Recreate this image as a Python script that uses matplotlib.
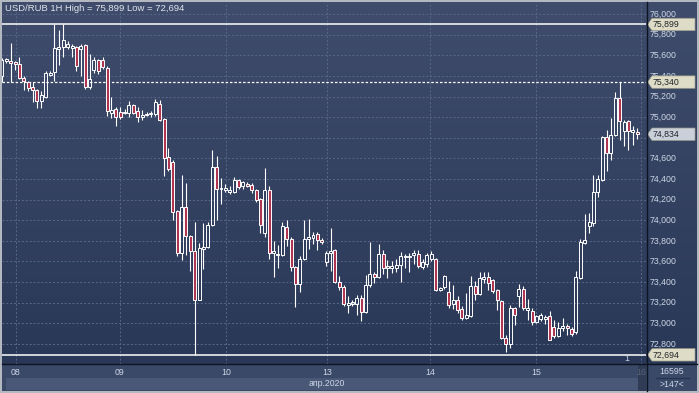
import numpy as np
import matplotlib.pyplot as plt
from matplotlib.colors import LinearSegmentedColormap
from matplotlib.patches import Polygon, Rectangle
from matplotlib.lines import Line2D

plt.rcParams['font.family'] = ['Liberation Sans', 'DejaVu Sans']

# USD/RUB hourly candles (open, high, low, close)
opens = [75.40, 75.54, 75.54, 75.53, 75.52, 75.38, 75.34, 75.29, 75.26, 75.16,
         75.20, 75.41, 75.44, 75.66, 75.68, 75.68, 75.67, 75.68, 75.66, 75.70,
         75.29, 75.46, 75.55, 75.55, 75.48, 75.04, 75.08, 75.05, 75.04, 75.04,
         75.12, 75.06, 75.00, 75.02, 75.03, 75.03, 75.13, 74.98, 74.61, 74.56,
         74.09, 73.68, 74.13, 73.85, 73.70, 73.23, 73.72, 73.74, 73.95, 74.52,
         74.30, 74.29, 74.27, 74.27, 74.39, 74.33, 74.35, 74.34, 74.29, 74.21,
         73.88, 74.29, 73.68, 73.66, 73.66, 73.93, 73.82, 73.55, 73.38, 73.62,
         73.82, 73.83, 73.87, 73.81, 73.59, 73.68, 73.71, 73.40, 73.35, 73.18,
         73.19, 73.19, 73.25, 73.11, 73.37, 73.48, 73.45, 73.67, 73.54, 73.54,
         73.54, 73.57, 73.64, 73.64, 73.66, 73.67, 73.55, 73.58, 73.62, 73.62,
         73.32, 73.35, 73.30, 73.19, 73.23, 73.14, 73.05, 73.07, 73.36, 73.28,
         73.43, 73.45, 73.42, 73.32, 73.22, 72.86, 72.80, 73.15, 73.26, 73.33,
         73.13, 73.12, 73.01, 73.04, 73.04, 73.07, 72.96, 72.88, 72.95, 72.97,
         72.94, 72.92, 73.44, 73.78, 73.94, 73.97, 74.27, 74.39, 74.81, 74.65,
         74.83, 75.19, 74.87, 74.96, 74.86, 74.86]
highs = [75.57, 75.57, 75.72, 75.54, 75.58, 75.40, 75.35, 75.34, 75.27, 75.25,
         75.45, 75.45, 75.899, 75.85, 75.90, 75.74, 75.71, 75.69, 75.71, 75.71,
         75.61, 75.58, 75.56, 75.58, 75.50, 75.20, 75.10, 75.10, 75.08, 75.16,
         75.13, 75.10, 75.07, 75.05, 75.06, 75.18, 75.17, 74.99, 74.70, 74.58,
         74.10, 74.44, 74.36, 73.86, 73.98, 73.78, 73.97, 73.98, 74.68, 74.62,
         74.41, 74.35, 74.33, 74.42, 74.40, 74.38, 74.37, 74.36, 74.30, 74.22,
         74.51, 74.33, 73.80, 73.76, 73.98, 74.00, 73.84, 73.56, 73.65, 74.00,
         74.01, 73.89, 73.89, 73.83, 73.70, 73.92, 73.72, 73.46, 73.37, 73.26,
         73.23, 73.27, 73.27, 73.47, 73.79, 73.50, 73.77, 73.71, 73.61, 73.60,
         73.62, 73.69, 73.67, 73.68, 73.71, 73.71, 73.62, 73.68, 73.70, 73.63,
         73.35, 73.47, 73.41, 73.37, 73.26, 73.17, 73.29, 73.46, 73.41, 73.50,
         73.50, 73.50, 73.43, 73.33, 73.23, 72.89, 73.18, 73.16, 73.38, 73.36,
         73.24, 73.15, 73.08, 73.10, 73.08, 73.12, 73.03, 73.01, 73.05, 72.99,
         72.96, 73.51, 73.82, 74.06, 74.07, 74.44, 74.44, 74.82, 74.88, 74.99,
         75.24, 75.340, 74.97, 74.97, 74.91, 74.89]
lows = [75.34, 75.53, 75.34, 75.46, 75.37, 75.26, 75.25, 75.15, 75.09, 75.09,
        75.19, 75.40, 75.35, 75.51, 75.58, 75.66, 75.58, 75.45, 75.40, 75.27,
        75.27, 75.43, 75.42, 75.47, 75.01, 74.99, 74.91, 74.98, 75.03, 75.00,
        75.03, 74.95, 74.97, 75.01, 75.00, 75.01, 74.96, 74.43, 74.48, 74.00,
        73.65, 73.61, 73.66, 73.51, 72.694, 73.23, 73.53, 73.73, 73.94, 74.00,
        74.16, 74.27, 74.25, 74.26, 74.30, 74.30, 74.32, 74.26, 74.18, 73.88,
        73.84, 73.62, 73.45, 73.54, 73.65, 73.75, 73.51, 73.16, 73.30, 73.61,
        73.72, 73.77, 73.71, 73.77, 73.56, 73.51, 73.39, 73.32, 73.17, 73.10,
        73.17, 73.08, 73.02, 73.10, 73.35, 73.39, 73.44, 73.48, 73.44, 73.49,
        73.50, 73.40, 73.54, 73.50, 73.58, 73.54, 73.53, 73.55, 73.60, 73.31,
        73.31, 73.33, 73.15, 73.14, 73.10, 73.03, 73.04, 73.06, 73.23, 73.27,
        73.39, 73.32, 73.29, 73.13, 72.85, 72.72, 72.76, 72.98, 73.16, 73.13,
        73.03, 72.98, 73.00, 73.02, 72.99, 72.84, 72.86, 72.87, 72.93, 72.89,
        72.88, 72.90, 73.43, 73.77, 73.88, 73.94, 74.23, 74.38, 74.48, 74.58,
        74.82, 74.78, 74.72, 74.68, 74.73, 74.79]
closes = [75.55, 75.56, 75.53, 75.52, 75.38, 75.35, 75.28, 75.26, 75.16, 75.21,
          75.43, 75.43, 75.67, 75.68, 75.75, 75.71, 75.69, 75.50, 75.69, 75.29,
          75.37, 75.55, 75.45, 75.49, 75.06, 75.07, 75.00, 75.00, 75.05, 75.12,
          75.04, 75.00, 75.02, 75.03, 75.04, 75.15, 74.97, 74.60, 74.50, 74.08,
          73.68, 74.13, 73.85, 73.70, 73.23, 73.73, 73.74, 73.95, 74.52, 74.30,
          74.31, 74.31, 74.29, 74.39, 74.32, 74.37, 74.33, 74.29, 74.20, 73.95,
          74.29, 73.68, 73.70, 73.67, 73.94, 73.82, 73.55, 73.38, 73.62, 73.82,
          73.84, 73.86, 73.81, 73.79, 73.68, 73.70, 73.40, 73.35, 73.19, 73.20,
          73.20, 73.25, 73.11, 73.37, 73.48, 73.45, 73.67, 73.54, 73.55, 73.56,
          73.57, 73.65, 73.65, 73.65, 73.68, 73.56, 73.59, 73.66, 73.67, 73.32,
          73.34, 73.46, 73.18, 73.23, 73.13, 73.05, 73.08, 73.36, 73.28, 73.44,
          73.45, 73.39, 73.31, 73.23, 72.86, 72.80, 73.15, 73.08, 73.33, 73.15,
          73.15, 73.01, 73.07, 73.08, 73.06, 72.84, 72.88, 72.95, 72.97, 72.95,
          72.90, 73.45, 73.79, 73.81, 73.98, 74.27, 74.40, 74.81, 74.65, 74.83,
          75.19, 74.96, 74.95, 74.87, 74.88, 74.834]

price_ticks = [72.8, 73.0, 73.2, 73.4, 73.6, 73.8, 74.0, 74.2, 74.4, 74.6,
               74.8, 75.0, 75.2, 75.4, 75.6, 75.8, 76.0]
day_pos = [3.15, 26.95, 51.1, 74.2, 97.7, 121.9, 145.9]   # candle index of each day start
day_labels = ['08', '09', '10', '13', '14', '15', '16']
month_label = 'апр.2020'
hi_level = 75.899
lo_level = 72.694
recent_high = 75.340
last_price = 74.834

W, H = 699, 393
fig = plt.figure(figsize=(W / 100, H / 100), dpi=100, facecolor='#b4b8c0')


def px_axes(x0, y0, x1, y1, face):
    a = fig.add_axes([x0 / W, 1 - y1 / H, (x1 - x0) / W, (y1 - y0) / H])
    a.set_facecolor(face)
    a.set_xticks([])
    a.set_yticks([])
    for s in a.spines.values():
        s.set_visible(False)
    return a


bg = LinearSegmentedColormap.from_list('bg', ['#3f4c6b', '#2a3857'])
ylim = (72.605, 76.117)
xlim = (0.02, 147.0)
grid_c = '#58678a'
lab_c = '#cdd6e6'
fmt = lambda p: f'{p:.3f}'.replace('.', ',')

# main price panel
ax = px_axes(2, 2, 646, 364, '#34425f')
ax.imshow(np.linspace(0, 1, 256).reshape(-1, 1), cmap=bg, aspect='auto',
          extent=[0, 1, 0, 1], transform=ax.transAxes, zorder=0)
for p in price_ticks:
    ax.axhline(p, color=grid_c, lw=0.7, ls=(0, (2, 2)), zorder=1)
for d in day_pos:
    ax.axvline(d, color=grid_c, lw=0.7, ls=(0, (2, 2)), zorder=1)
ax.axhline(hi_level, color='white', lw=1.1, zorder=2)
ax.axhline(recent_high, color='white', lw=0.9, ls=(0, (2, 1.5)), zorder=2)
ax.axhline(lo_level, color='white', lw=1.1, zorder=2)

o, h, l, c = map(np.array, (opens, highs, lows, closes))
x = np.arange(len(o))
top = np.maximum(o, c)
bot = np.minimum(o, c)
ax.vlines(x, top, h, color='white', lw=0.8, zorder=3)
ax.vlines(x, l, bot, color='white', lw=0.8, zorder=3)
body = np.maximum(top - bot, 0.014)
up = c >= o
ax.bar(x[up], body[up], bottom=bot[up], width=0.68, facecolor='none',
       edgecolor='white', lw=0.7, zorder=4)
ax.bar(x[~up], body[~up], bottom=bot[~up], width=0.68, facecolor='#b03550',
       edgecolor='white', lw=0.7, zorder=4)
ax.set_xlim(*xlim)
ax.set_ylim(*ylim)

fig.text(5 / W, 1 - 8.5 / H, f'USD/RUB 1H High = {fmt(hi_level)} Low = {fmt(lo_level)}',
         ha='left', va='center', fontsize=6.8, color='#e0e4ec')
fig.text(627 / W, 1 - 358.5 / H, '1', ha='center', va='center', fontsize=6.3, color=lab_c)

# right price scale
rax = px_axes(646, 2, 697, 364, '#34425f')
rax.imshow(np.linspace(0, 1, 256).reshape(-1, 1), cmap=bg, aspect='auto',
           extent=[0, 1, 0, 1], transform=rax.transAxes, zorder=0)
rax.set_xlim(646, 697)
rax.set_ylim(*ylim)
tags = [(hi_level, '#dedcc6'), (recent_high, '#dedcc6'),
        (last_price, '#c9d0da'), (lo_level, '#dedcc6')]
for p in price_ticks:
    # a label fully covered by a price tag is not visible in the original
    if any(abs(p - t) < 0.04 for t, _ in tags):
        continue
    rax.text(650, p, fmt(p), ha='left', va='center', fontsize=6.3, color=lab_c, zorder=2)


def price_tag(p, face):
    hh = 6.2 / 102.8
    pts = [(647.5, p), (652, p + hh), (695, p + hh), (695, p - hh), (652, p - hh)]
    rax.add_patch(Polygon(pts, closed=True, fc=face, ec='#9a9a8a', lw=0.5, zorder=5))
    rax.text(652.5, p, fmt(p), ha='left', va='center', fontsize=6.3, color='#202428', zorder=6)


for t, face in tags:
    price_tag(t, face)

# date axis
bax = px_axes(2, 364, 646, 391, '#3b4968')
bax.set_xlim(*xlim)
bax.set_ylim(391, 364)
bax.add_patch(Rectangle((0.94, 377.5), 144.3, 12.5, fc='#4a5877', ec='none', zorder=1))
for d, t in zip(day_pos, day_labels):
    bax.text(d, 372.5, t, ha='center', va='center', fontsize=6.3, color=lab_c, zorder=2)
bax.text(day_pos[3], 383.8, month_label, ha='center', va='center', fontsize=6.3,
         color=lab_c, zorder=2)
bax.add_patch(Rectangle((145.2, 364), 2, 27, fc='#2d3850', ec='none', alpha=0.75, zorder=3))

brax = px_axes(646, 364, 697, 391, '#3b4968')
brax.set_xlim(646, 697)
brax.set_ylim(391, 364)
brax.text(671.5, 371, '16595', ha='center', va='center', fontsize=6.3, color=lab_c)
brax.text(671.5, 384.5, '>147<', ha='center', va='center', fontsize=6.3, color=lab_c)
brax.plot([656, 689], [377.5, 377.5], color='#26314a', lw=0.8)

# dark separators between panels
fig.add_artist(Line2D([2 / W, 697 / W], [1 - 364 / H] * 2, color='#0d1422', lw=1.0))
fig.add_artist(Line2D([646.5 / W] * 2, [1 - 2 / H, 1 - 391 / H], color='#0d1422', lw=1.0))

fig.savefig('out.png', dpi=100, facecolor=fig.get_facecolor())
